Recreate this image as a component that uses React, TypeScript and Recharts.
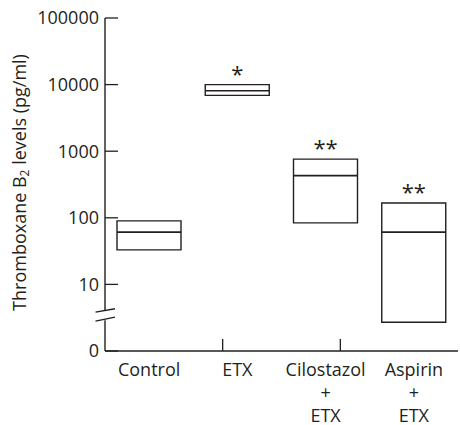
import React from 'react'
import { ComposedChart, Bar, Scatter, XAxis, YAxis, ReferenceLine, ReferenceDot, LabelList } from 'recharts'

const groups = ['Control', 'ETX', 'Cilostazol\n+\nETX', 'Aspirin\n+\nETX']
const lowValues = [33, 6900, 84, 2.7]
const highValues = [90, 10000, 760, 167]
const medianValues = [61, 8100, 430, 61]
const significance = ['', '*', '**', '**']
const yTicks = [1, 10, 100, 1000, 10000, 100000]
const groupEdges = [1, 2, 3, 4]

// axis is broken between 1 ("0") and 10
const BREAK_AT = 3.5
const BREAK_LOW = 2.9
const BREAK_HIGH = 4.1

const INK = '#231f20'
const FONT = '"Open Sans", sans-serif'

const data = groups.map((name, i) => ({
    name,
    range: [lowValues[i], highValues[i]],
    median: medianValues[i],
    sig: significance[i],
}))

const GroupTick = (props: any) => {
    const { x, y, payload } = props
    const lines = String(payload.value).split('\n')
    return (
        <g>
            {lines.map((line, i) => (
                <text key={i} x={x} y={y + 23.5 + i * 23} textAnchor="middle" fill={INK} fontSize={18} fontFamily={FONT}>
                    {line}
                </text>
            ))}
        </g>
    )
}

const NoLabel = () => <g />

const MedianLine = (props: any) => {
    const { cx, cy } = props
    return <line x1={cx - 32} x2={cx + 32} y1={cy} y2={cy} stroke={INK} strokeWidth={1.6} />
}

const AxisBreak = (props: any) => {
    const { cx, cy } = props
    return (
        <g stroke={INK} strokeWidth={1.3}>
            <line x1={cx - 9.5} y1={cy - 2.6} x2={cx + 10} y2={cy - 6} />
            <line x1={cx - 9.5} y1={cy + 6.4} x2={cx + 10} y2={cy + 2.4} />
        </g>
    )
}

const YTitle = (props: any) => {
    const { viewBox } = props
    const cx = viewBox.x + 19
    const cy = viewBox.y + viewBox.height / 2 - 2
    return (
        <text
            x={cx}
            y={cy}
            transform={`rotate(-90, ${cx}, ${cy})`}
            textAnchor="middle"
            dominantBaseline="central"
            fill={INK}
            fontSize={18}
            fontFamily={FONT}
        >
            Thromboxane B
            <tspan fontSize={12} dy={5}>2</tspan>
            <tspan dy={-5}> levels (pg/ml)</tspan>
        </text>
    )
}

const Stars = (props: any) => {
    const { x, y, width, value } = props
    if (!value) return null
    return (
        <text x={x + width / 2} y={y - 3} textAnchor="middle" fill={INK} fontSize={22} fontFamily={FONT}>
            {value}
        </text>
    )
}

export default function App() {
    return (
        <div style={{ width: 460, height: 425 }}>
            <style>{'body { margin: 0; }'}</style>
            <ComposedChart width={460} height={425} data={data} margin={{ top: 18, right: 2, left: 0, bottom: 0 }}>
                {/* boundary ticks between groups, sits right on the plot bottom */}
                <XAxis
                    xAxisId="a"
                    type="number"
                    domain={[0, 4]}
                    ticks={groupEdges}
                    height={1}
                    tick={<NoLabel />}
                    tickSize={-12}
                    stroke={INK}
                    axisLine={{ stroke: INK, strokeWidth: 1.4 }}
                    tickLine={{ stroke: INK, strokeWidth: 1.3 }}
                />
                <XAxis
                    xAxisId="b"
                    dataKey="name"
                    type="category"
                    height={73}
                    axisLine={false}
                    tickLine={false}
                    tickSize={0}
                    tickMargin={0}
                    interval={0}
                    tick={<GroupTick />}
                />
                <YAxis
                    scale="log"
                    domain={[1, 100000]}
                    ticks={yTicks}
                    allowDataOverflow
                    width={105}
                    axisLine={false}
                    tickSize={-13}
                    tickMargin={19}
                    tickLine={{ stroke: INK, strokeWidth: 1.3 }}
                    tick={{ fill: INK, fontSize: 18, fontFamily: FONT }}
                    tickFormatter={(v: number) => (v === 1 ? '0' : String(v))}
                    label={{ content: (p: any) => <YTitle {...p} /> }}
                />
                <ReferenceLine
                    xAxisId="a"
                    segment={[{ x: 0, y: 1 }, { x: 0, y: BREAK_LOW }]}
                    stroke={INK}
                    strokeWidth={1.4}
                />
                <ReferenceLine
                    xAxisId="a"
                    segment={[{ x: 0, y: BREAK_HIGH }, { x: 0, y: 100000 }]}
                    stroke={INK}
                    strokeWidth={1.4}
                />
                <ReferenceDot xAxisId="a" x={0} y={BREAK_AT} ifOverflow="visible" shape={<AxisBreak />} />
                <Bar
                    xAxisId="b"
                    dataKey="range"
                    barSize={64}
                    fill="none"
                    stroke={INK}
                    strokeWidth={1.4}
                    isAnimationActive={false}
                >
                    <LabelList dataKey="sig" content={<Stars />} />
                </Bar>
                <Scatter xAxisId="b" dataKey="median" shape={<MedianLine />} isAnimationActive={false} />
            </ComposedChart>
        </div>
    )
}
